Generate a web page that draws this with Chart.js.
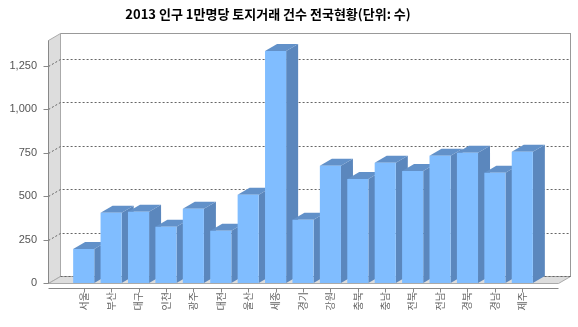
<!DOCTYPE html>
<html>
<head>
<meta charset="utf-8">
<script src="https://cdn.jsdelivr.net/npm/chart.js@4/dist/chart.umd.min.js"></script>
<style>
  html, body { margin: 0; padding: 0; background: #fff; }
  #wrap { width: 578px; height: 327px; }
</style>
</head>
<body>
<div id="wrap"><canvas id="graphCanvas" width="578" height="327"></canvas></div>
<script>
var regions = ['서울', '부산', '대구', '인천', '광주', '대전', '울산', '세종', '경기',
               '강원', '충북', '충남', '전북', '전남', '경북', '경남', '제주'];
var counts = [196, 405, 411, 324, 428, 301, 509, 1336, 365,
              676, 599, 693, 645, 733, 751, 635, 756];
var yTicks = [0, 250, 500, 750, 1000, 1250];
var yMax = 1400;

var DX = 12, DY = -7;   // depth offset of the 3d box
var SIDE = 22;          // gap between category range and the walls

function poly(ctx, pts) {
    ctx.beginPath();
    ctx.moveTo(pts[0][0], pts[0][1]);
    for (var i = 1; i < pts.length; i++) ctx.lineTo(pts[i][0], pts[i][1]);
    ctx.closePath();
}

var box3d = {
    id: 'box3d',
    beforeDatasetsDraw: function (chart) {
        var ctx = chart.ctx, a = chart.chartArea;
        var ys = chart.scales.y, xs = chart.scales.x;
        var L = Math.round(a.left - SIDE) + 0.5, R = Math.round(a.right + SIDE) + 0.5;
        var T = Math.round(ys.getPixelForValue(yMax)) + 0.5;
        var B = Math.round(ys.getPixelForValue(0)) + 0.5;
        ctx.save();
        ctx.lineWidth = 1;

        // back wall
        ctx.fillStyle = '#ffffff';
        ctx.fillRect(L + DX, T + DY, R - L, B - T);
        ctx.strokeStyle = '#999999';
        ctx.strokeRect(L + DX, T + DY, R - L, B - T);

        // left wall
        poly(ctx, [[L, T], [L + DX, T + DY], [L + DX, B + DY], [L, B]]);
        ctx.fillStyle = '#dddddd';
        ctx.fill();
        ctx.strokeStyle = '#aaaaaa';
        ctx.stroke();

        // floor
        poly(ctx, [[L, B], [R, B], [R + DX, B + DY], [L + DX, B + DY]]);
        ctx.fillStyle = '#dddddd';
        ctx.fill();
        ctx.strokeStyle = '#aaaaaa';
        ctx.stroke();

        // dashed grid lines
        ctx.strokeStyle = '#666666';
        ctx.setLineDash([2, 2]);
        yTicks.forEach(function (v) {
            var py = Math.round(ys.getPixelForValue(v)) + 0.5;
            ctx.beginPath();
            if (v > 0) ctx.moveTo(L, py);
            else ctx.moveTo(L + DX, py + DY);
            ctx.lineTo(L + DX, py + DY);
            ctx.lineTo(R + DX, py + DY);
            ctx.stroke();
        });
        ctx.setLineDash([]);

        // y axis line + ticks
        ctx.strokeStyle = '#888888';
        ctx.beginPath();
        ctx.moveTo(L, T);
        ctx.lineTo(L, B);
        yTicks.forEach(function (v) {
            var py = Math.round(ys.getPixelForValue(v)) + 0.5;
            ctx.moveTo(L - 5, py);
            ctx.lineTo(L, py);
        });
        ctx.stroke();

        // x axis line + ticks
        ctx.beginPath();
        ctx.moveTo(L, B + 5);
        ctx.lineTo(R, B + 5);
        for (var i = 0; i < regions.length; i++) {
            var px = Math.round(xs.getPixelForValue(i)) + 0.5;
            ctx.moveTo(px, B + 5);
            ctx.lineTo(px, B + 9);
        }
        ctx.stroke();

        // bar side and top faces, left to right
        var meta = chart.getDatasetMeta(0);
        meta.data.forEach(function (el) {
            var l = el.x - el.width / 2, r = el.x + el.width / 2;
            var top = el.y, base = el.base;
            poly(ctx, [[r, top], [r + DX, top + DY], [r + DX, base + DY], [r, base]]);
            ctx.fillStyle = '#5b87bd';
            ctx.fill();
            poly(ctx, [[l, top], [l + DX, top + DY], [r + DX, top + DY], [r, top]]);
            ctx.fillStyle = '#6291c9';
            ctx.fill();
        });
        ctx.restore();
    }
};

var chartdata = {
    labels: regions,
    datasets: [
        {
            label: '건수',
            backgroundColor: '#80bdff',
            borderWidth: 0,
            categoryPercentage: 1,
            barPercentage: 0.77,
            data: counts
        }
    ]
};

var barGraph = new Chart(document.getElementById('graphCanvas'), {
    type: 'bar',
    data: chartdata,
    plugins: [box3d],
    options: {
        responsive: false,
        animation: false,
        layout: { padding: { left: 0, right: 42, top: 0, bottom: 0 } },
        plugins: {
            legend: { display: false },
            tooltip: { enabled: false },
            title: {
                display: true,
                text: '2013 인구 1만명당 토지거래 건수 전국현황(단위: 수)',
                color: '#000000',
                font: { family: '"Noto Sans CJK KR", sans-serif', size: 13, weight: 'bold', lineHeight: 1.2 },
                padding: { top: 6, bottom: 18.4 }
            }
        },
        scales: {
            x: {
                grid: { display: false, drawTicks: false },
                border: { display: false },
                afterFit: function (scale) { scale.height = 44; },
                ticks: {
                    autoSkip: false,
                    minRotation: 90,
                    maxRotation: 90,
                    padding: 9,
                    color: '#666666',
                    font: { family: '"Noto Sans CJK KR", sans-serif', size: 10 }
                }
            },
            y: {
                min: 0,
                max: yMax,
                grid: { display: false, drawTicks: false },
                border: { display: false },
                afterFit: function (scale) { scale.width = 70; },
                afterBuildTicks: function (scale) {
                    scale.ticks = yTicks.map(function (v) { return { value: v }; });
                },
                ticks: {
                    padding: 33,
                    color: '#555555',
                    font: { family: '"Liberation Sans", Arial, sans-serif', size: 11 }
                }
            }
        }
    }
});
</script>
</body>
</html>
